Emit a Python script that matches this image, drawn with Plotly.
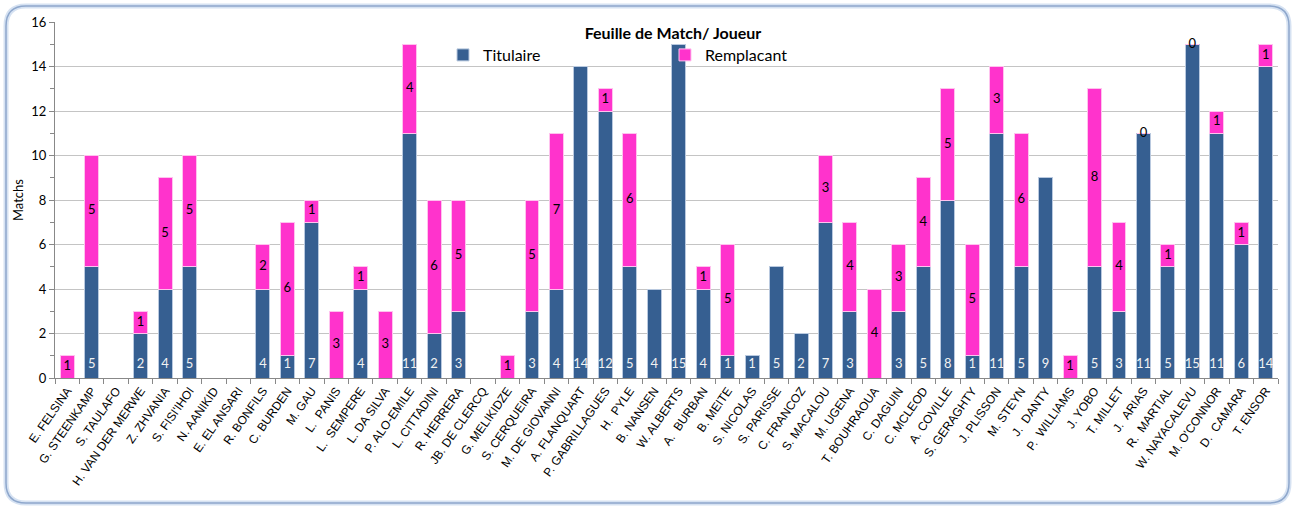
import plotly.graph_objects as go

players = ["E. FELSINA", "G. STEENKAMP", "S. TAULAFO", "H. VAN DER MERWE", "Z. ZHVANIA",
           "S. FISI'IHOI", "N. AANIKID", "E. EL ANSARI", "R. BONFILS", "C. BURDEN",
           "M. GAU", "L.  PANIS", "L.  SEMPERE", "L. DA SILVA", "P. ALO-EMILE",
           "L. CITTADINI", "R. HERRERA", "JB. DE CLERCQ", "G. MELIKIDZE", "S. CERQUEIRA",
           "M. DE GIOVANNI", "A. FLANQUART", "P. GABRILLAGUES", "H.  PYLE", "B. NANSEN",
           "W. ALBERTS", "A.  BURBAN", "B. MEITE", "S. NICOLAS", "S. PARISSE",
           "C. FRANCOZ", "S. MACALOU", "M. UGENA", "T. BOUHRAOUA", "C. DAGUIN",
           "C. MCLEOD", "A. COVILLE", "S. GERAGHTY", "J. PLISSON", "M. STEYN",
           "J.  DANTY", "P.  WILLIAMS", "J. YOBO", "T. MILLET", "J.  ARIAS",
           "R.  MARTIAL", "W. NAYACALEVU", "M. O'CONNOR", "D.  CAMARA", "T. ENSOR"]

titulaire = [None, 5, None, 2, 4, 5, None, None, 4, 1,
             7, None, 4, None, 11, 2, 3, None, None, 3,
             4, 14, 12, 5, 4, 15, 4, 1, 1, 5,
             2, 7, 3, None, 3, 5, 8, 1, 11, 5,
             9, None, 5, 3, 11, 5, 15, 11, 6, 14]

remplacant = [1, 5, None, 1, 5, 5, None, None, 2, 6,
              1, 3, 1, 3, 4, 6, 5, None, 1, 5,
              7, None, 1, 6, None, None, 1, 5, None, None,
              None, 3, 4, 4, 3, 4, 5, 5, 3, 6,
              None, 1, 8, 4, 0, 1, 0, 1, 1, 1]

BLUE = "#365F91"
PINK = "#FF33CC"
LABEL_FONT = "Lato, 'Open Sans', sans-serif"

fig = go.Figure()
fig.add_trace(go.Bar(name="Titulaire", x=players, y=titulaire,
                     marker=dict(color=BLUE, line=dict(color="#b9c9df", width=1))))
fig.add_trace(go.Bar(name="Remplacant", x=players, y=remplacant,
                     marker=dict(color=PINK, line=dict(color="#ffc2ee", width=1))))

# data labels: blue near the base (inside), pink centred in its segment
BASE_LABEL_OFFSET = 0.6
t_x, t_txt = [], []
r_x, r_y, r_txt = [], [], []
for p, t, r in zip(players, titulaire, remplacant):
    if t:
        t_x.append(p)
        t_txt.append(str(t))
    if r is not None:
        base = t or 0
        r_x.append(p)
        r_y.append(base + r / 2)
        r_txt.append(str(r))

fig.add_trace(go.Scatter(x=t_x, y=[BASE_LABEL_OFFSET] * len(t_x), text=t_txt, mode="text",
                         textposition="middle center", showlegend=False, hoverinfo="skip",
                         cliponaxis=False,
                         textfont=dict(family=LABEL_FONT, size=13, color="#f2f2f2")))
fig.add_trace(go.Scatter(x=r_x, y=r_y, text=r_txt, mode="text",
                         textposition="middle center", showlegend=False, hoverinfo="skip",
                         cliponaxis=False,
                         textfont=dict(family=LABEL_FONT, size=13, color="#000000")))

W, H = 1294, 510
ML, MR, MT, MB = 55, 16, 22, 132
PW, PH = W - ML - MR, H - MT - MB


def px(xp):
    return (xp - ML) / PW


def py(yp):
    return (H - MB - yp) / PH


# rounded chart border
x0, x1, y0, y1, rr = 6, 1289, 6, 503, 20
path = (f"M {px(x0 + rr)},{py(y0)} L {px(x1 - rr)},{py(y0)} "
        f"Q {px(x1)},{py(y0)} {px(x1)},{py(y0 + rr)} "
        f"L {px(x1)},{py(y1 - rr)} Q {px(x1)},{py(y1)} {px(x1 - rr)},{py(y1)} "
        f"L {px(x0 + rr)},{py(y1)} Q {px(x0)},{py(y1)} {px(x0)},{py(y1 - rr)} "
        f"L {px(x0)},{py(y0 + rr)} Q {px(x0)},{py(y0)} {px(x0 + rr)},{py(y0)} Z")

shapes = [
    dict(type="path", xref="paper", yref="paper", path=path,
         line=dict(color="#d6e2f2", width=5), layer="below"),
    dict(type="path", xref="paper", yref="paper", path=path,
         line=dict(color="#8ea7cc", width=1.5), layer="below"),
]

fig.update_layout(
    width=W, height=H,
    barmode="stack", bargap=0.43,
    paper_bgcolor="white", plot_bgcolor="white",
    margin=dict(l=ML, r=MR, t=MT, b=MB),
    shapes=shapes,
    title=dict(text="<b>Feuille de Match/ Joueur</b>", x=px(673), xref="paper",
               xanchor="center", y=1 - 33 / H, yanchor="middle",
               font=dict(family=LABEL_FONT, size=16, color="#000000")),
    legend=dict(orientation="h", x=px(443), y=py(55), xanchor="left", yanchor="middle",
                entrywidth=177, entrywidthmode="pixels", traceorder="normal",
                bgcolor="rgba(0,0,0,0)",
                font=dict(family=LABEL_FONT, size=16, color="#000000")),
    showlegend=True,
)

fig.update_xaxes(type="category", range=[-0.5, len(players) - 0.5],
                 tickangle=-55, tickson="boundaries",
                 ticks="outside", ticklen=5, tickcolor="#888888",
                 showline=True, linecolor="#888888", linewidth=1,
                 showgrid=False,
                 tickfont=dict(family="'Liberation Sans', Arial, sans-serif", size=12,
                               color="#000000"))
fig.update_yaxes(range=[0, 16], dtick=2, ticks="outside", ticklen=5, tickcolor="#888888",
                 showline=True, linecolor="#888888", linewidth=1,
                 showgrid=True, gridcolor="#c4c4c4", gridwidth=1,
                 minor=dict(dtick=1, ticks="outside", ticklen=4, tickcolor="#888888",
                            showgrid=False),
                 zeroline=False,
                 title=dict(text="Matchs", font=dict(family=LABEL_FONT, size=13,
                                                     color="#000000"), standoff=4),
                 tickfont=dict(family=LABEL_FONT, size=13, color="#000000"))

fig.write_html("out.html", config={"displayModeBar": False},
               post_script="document.body.style.margin='0';")
